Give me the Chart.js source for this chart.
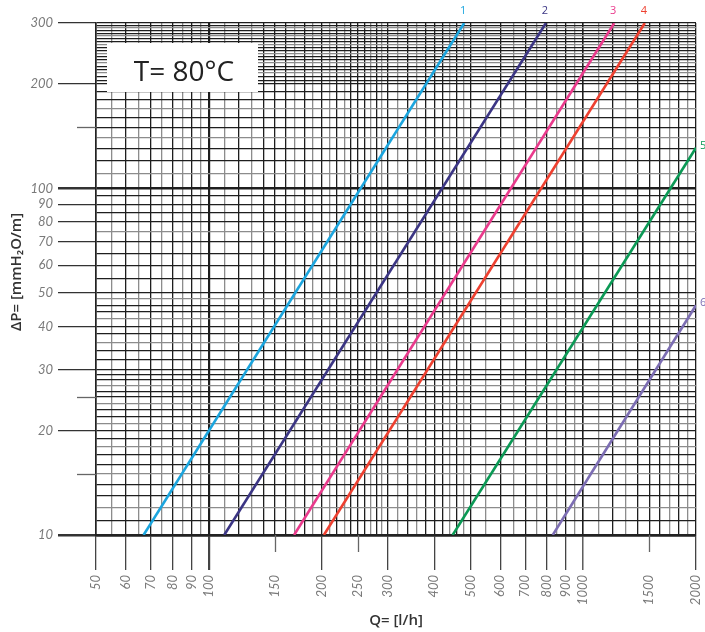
<!DOCTYPE html>
<html>
<head>
<meta charset="utf-8">
<script src="https://cdn.jsdelivr.net/npm/chart.js@4/dist/chart.umd.min.js"></script>
<style>
  html, body { margin: 0; padding: 0; background: #fff; }
  #wrap { width: 705px; height: 632px; }
</style>
</head>
<body>
<div id="wrap"><canvas id="chart"></canvas></div>
<script>
// curves: start and end points (Q in l/h, dP in mmH2O/m)
const curveNames = ['1', '2', '3', '4', '5', '6'];
const qStart = [67, 110, 169, 203, 448, 829];
const qEnd   = [481, 795, 1210, 1460, 2000, 2000];
const pStart = [10, 10, 10, 10, 10, 10];
const pEnd   = [300, 300, 300, 300, 131, 46];
const curveColors = ['#1ba5de', '#3b3584', '#ea3a8c', '#ee4030', '#0b9955', '#7c6db3'];

// grid lines and tick labels
const qGrid = [50, 55, 60, 65, 70, 75, 80, 85, 90, 95, 100, 110, 120, 130, 140, 150, 160, 170, 180, 190,
  200, 210, 220, 230, 240, 250, 260, 270, 280, 290, 300, 320, 340, 360, 380, 400, 420, 440, 460, 480,
  500, 550, 600, 650, 700, 750, 800, 850, 900, 950, 1000, 1100, 1200, 1300, 1400, 1500, 1600, 1700,
  1800, 1900, 2000];
const qLabels = [50, 60, 70, 80, 90, 100, 150, 200, 250, 300, 400, 500, 600, 700, 800, 900, 1000, 1500, 2000];
const qShortTicks = [150, 250, 1500];

const pGrid = [10, 11, 12, 13, 14, 15, 16, 17, 18, 19, 20, 21, 22, 23, 24, 25, 26, 27, 28, 29, 30,
  32, 34, 36, 38, 40, 42, 44, 46, 48, 50, 55, 60, 65, 70, 75, 80, 85, 90, 95, 100,
  110, 120, 130, 140, 150, 160, 170, 180, 190, 200, 205, 210, 215, 220, 225, 230, 235, 240, 245,
  250, 255, 260, 265, 270, 275, 280, 285, 290, 295, 300];
const pLabels = [10, 20, 30, 40, 50, 60, 70, 80, 90, 100, 200, 300];
const pShortTicks = [15, 25, 150];

const DARK = '#1e1e1e';
const GRAY = '#8c8c8c';
const labelFont = { family: 'Lato', size: 13, style: 'italic' };

const datasets = curveNames.map((n, i) => ({
  label: n,
  data: [{ x: qStart[i], y: pStart[i] }, { x: qEnd[i], y: pEnd[i] }],
  borderColor: curveColors[i],
  borderWidth: 2.6,
  pointRadius: 0,
  fill: false
}));

const extras = {
  id: 'extras',
  afterDraw(chart) {
    const { ctx, chartArea: a, scales: { x, y } } = chart;
    ctx.save();
    // short tick marks
    ctx.strokeStyle = '#666';
    ctx.lineWidth = 1.3;
    pShortTicks.forEach(v => {
      const py = Math.round(y.getPixelForValue(v)) + 0.5;
      ctx.beginPath(); ctx.moveTo(a.left - 19, py); ctx.lineTo(a.left, py); ctx.stroke();
    });
    qShortTicks.forEach(v => {
      const px = Math.round(x.getPixelForValue(v)) + 0.5;
      ctx.beginPath(); ctx.moveTo(px, a.bottom); ctx.lineTo(px, a.bottom + 17); ctx.stroke();
    });

    // temperature box
    ctx.fillStyle = '#fff';
    ctx.fillRect(a.left + 11, a.top + 20, 151, 49);
    ctx.fillStyle = '#222';
    ctx.font = "28px 'Open Sans'";
    ctx.textAlign = 'center';
    ctx.textBaseline = 'middle';
    ctx.fillText('T= 80°C', a.left + 88, a.top + 50);

    // curve numbers
    ctx.font = "11px 'Open Sans'";
    curveNames.forEach((n, i) => {
      const px = x.getPixelForValue(qEnd[i]);
      const py = y.getPixelForValue(pEnd[i]);
      ctx.fillStyle = curveColors[i];
      if (pEnd[i] >= 300) {
        ctx.textAlign = 'center';
        ctx.fillText(n, px - 1, py - 12);
      } else {
        ctx.textAlign = 'left';
        ctx.fillText(n, px + 4, py - 2);
      }
    });

    // axis titles
    ctx.fillStyle = '#333';
    ctx.font = "600 15px 'Open Sans'";
    ctx.textAlign = 'center';
    ctx.fillText('Q= [l/h]', 396, 621);
    ctx.translate(17, 272);
    ctx.rotate(-Math.PI / 2);
    ctx.fillText('ΔP= [mmH₂O/m]', 0, 0);
    ctx.restore();
  }
};

new Chart(document.getElementById('chart'), {
  type: 'line',
  data: { datasets },
  plugins: [extras],
  options: {
    responsive: true,
    maintainAspectRatio: false,
    animation: false,
    layout: { padding: { top: 23, right: 9, left: 0, bottom: 0 } },
    plugins: { legend: { display: false }, tooltip: { enabled: false } },
    scales: {
      x: {
        type: 'logarithmic',
        min: 50,
        max: 2000,
        afterBuildTicks: s => { s.ticks = qGrid.map(v => ({ value: v })); },
        afterFit: s => { s.height = 97; s.paddingLeft = 0; s.paddingRight = 0; },
        ticks: {
          autoSkip: false,
          minRotation: 90,
          maxRotation: 90,
          padding: 5,
          color: '#7a7a7a',
          font: labelFont,
          callback: v => qLabels.includes(v) ? String(v) : ''
        },
        grid: {
          tickLength: 35,
          color: c => {
            const v = c.tick && c.tick.value;
            if (qLabels.includes(v)) return DARK;
            return c.index % 2 === 1 ? GRAY : DARK;
          },
          lineWidth: c => {
            const v = c.tick && c.tick.value;
            if (v === 100) return 2.2;
            if (v === 1000) return 1.6;
            return 1.3;
          },
          tickColor: c => {
            const v = c.tick && c.tick.value;
            return qLabels.includes(v) && !qShortTicks.includes(v) ? '#444' : 'rgba(0,0,0,0)';
          },
          tickWidth: c => (c.tick && c.tick.value === 100) ? 2.2 : 1.3
        },
        border: { display: true, color: '#222', width: 2.4 }
      },
      y: {
        type: 'logarithmic',
        min: 10,
        max: 300,
        afterBuildTicks: s => { s.ticks = pGrid.map(v => ({ value: v })); },
        afterFit: s => { s.width = 96; s.paddingTop = 0; s.paddingBottom = 0; },
        ticks: {
          autoSkip: false,
          padding: 5,
          color: '#7a7a7a',
          font: labelFont,
          callback: v => pLabels.includes(v) ? String(v) : ''
        },
        grid: {
          tickLength: 38,
          color: c => {
            const v = c.tick && c.tick.value;
            if (pLabels.includes(v)) return DARK;
            return c.index % 3 === 2 ? GRAY : DARK;
          },
          lineWidth: c => {
            const v = c.tick && c.tick.value;
            if (v === 10 || v === 100) return 2.4;
            return 1.3;
          },
          tickColor: c => {
            const v = c.tick && c.tick.value;
            return pLabels.includes(v) ? '#333' : 'rgba(0,0,0,0)';
          },
          tickWidth: c => {
            const v = c.tick && c.tick.value;
            return (v === 10 || v === 100) ? 2.6 : 1.3;
          }
        },
        border: { display: true, color: '#222', width: 1.6 }
      }
    }
  }
});
</script>
</body>
</html>
